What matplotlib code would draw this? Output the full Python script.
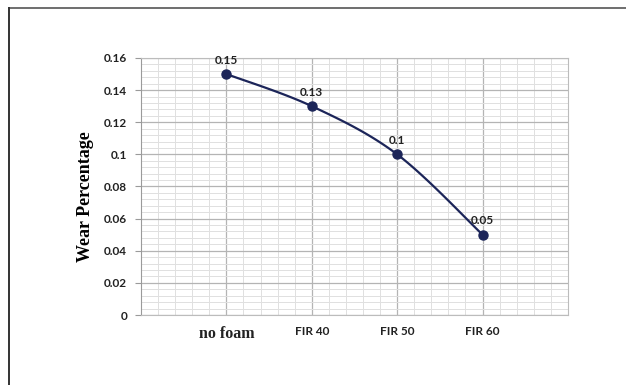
import numpy as np
import matplotlib
matplotlib.use("Agg")
import matplotlib.pyplot as plt
from matplotlib.ticker import MultipleLocator

categories = ["no foam", "FIR 40", "FIR 50", "FIR 60"]
wear = [0.15, 0.13, 0.10, 0.05]
value_labels = ["0.15", "0.13", "0.1", "0.05"]

LINE_COLOR = "#1c2559"


def smooth_curve(x, y, n=40):
    """Excel-style smoothed line (Catmull-Rom via cubic Bezier)."""
    x = np.asarray(x, float)
    y = np.asarray(y, float)
    px = np.concatenate([[x[0]], x, [x[-1]]])
    py = np.concatenate([[y[0]], y, [y[-1]]])
    t = np.linspace(0, 1, n)[:, None]
    xs, ys = [], []
    for i in range(1, len(px) - 2):
        p0 = np.array([px[i - 1], py[i - 1]])
        p1 = np.array([px[i], py[i]])
        p2 = np.array([px[i + 1], py[i + 1]])
        p3 = np.array([px[i + 2], py[i + 2]])
        c1 = p1 + (p2 - p0) / 6
        c2 = p2 - (p3 - p1) / 6
        b = ((1 - t) ** 3) * p1 + 3 * ((1 - t) ** 2) * t * c1 + 3 * (1 - t) * t ** 2 * c2 + t ** 3 * p2
        xs.append(b[:, 0])
        ys.append(b[:, 1])
    return np.concatenate(xs), np.concatenate(ys)


fig = plt.figure(figsize=(6.26, 3.85), dpi=100)
ax = fig.add_axes([0.2252, 0.1818, 0.6821, 0.6676])

xpos = np.arange(len(categories))
ax.set_xlim(-1, len(categories))
ax.set_ylim(0, 0.16)

ax.yaxis.set_major_locator(MultipleLocator(0.02))
ax.yaxis.set_minor_locator(MultipleLocator(0.004))
ax.xaxis.set_major_locator(MultipleLocator(1))
ax.xaxis.set_minor_locator(MultipleLocator(0.2))
ax.grid(which="major", color="#b4b4b4", linewidth=0.9)
ax.grid(which="minor", color="#e0e0e0", linewidth=0.7)
ax.set_axisbelow(True)

for side in ["top", "right", "bottom"]:
    ax.spines[side].set_color("#bcbcbc")
ax.spines["left"].set_color("#9a9a9a")

sx, sy = smooth_curve(xpos, wear)
ax.plot(sx, sy, color=LINE_COLOR, linewidth=1.6, zorder=3)
ax.plot(xpos, wear, "o", color=LINE_COLOR, markersize=6.5, zorder=4)

for x, y, lab in zip(xpos, wear, value_labels):
    ax.annotate(lab, (x, y), xytext=(0, 6), textcoords="offset points",
                ha="center", va="bottom", fontsize=8.5, fontweight="bold",
                family="Lato", color="#222222")

ax.set_xticks(xpos)
ax.set_xticklabels(categories)
for i, t in enumerate(ax.get_xticklabels()):
    if i == 0:
        t.set_family("Liberation Serif")
        t.set_fontsize(11.5)
    else:
        t.set_family("Lato")
        t.set_fontsize(8.5)
    t.set_fontweight("bold")
    t.set_color("#222222")

ax.set_yticks(np.arange(0, 0.161, 0.02))
ax.set_yticklabels(["0", "0.02", "0.04", "0.06", "0.08", "0.1", "0.12", "0.14", "0.16"])
for t in ax.get_yticklabels():
    t.set_family("Lato")
    t.set_fontsize(8.5)
    t.set_fontweight("bold")
    t.set_color("#222222")

ax.tick_params(axis="x", which="both", length=0, pad=8)
ax.tick_params(axis="y", which="major", length=4, color="#9a9a9a", pad=6)
ax.tick_params(axis="y", which="minor", length=0)

ax.set_ylabel("Wear Percentage", family="Liberation Serif", fontsize=13,
              fontweight="bold")
ax.yaxis.set_label_coords(-0.11, 0.46)

# page frame lines (top and left)
fig.add_artist(plt.Line2D([0.014, 1.0], [0.979, 0.979], color="#555555", linewidth=1.2))
fig.add_artist(plt.Line2D([0.014, 0.014], [0.0, 0.979], color="#333333", linewidth=1.4))

fig.savefig("out.png", dpi=100)
